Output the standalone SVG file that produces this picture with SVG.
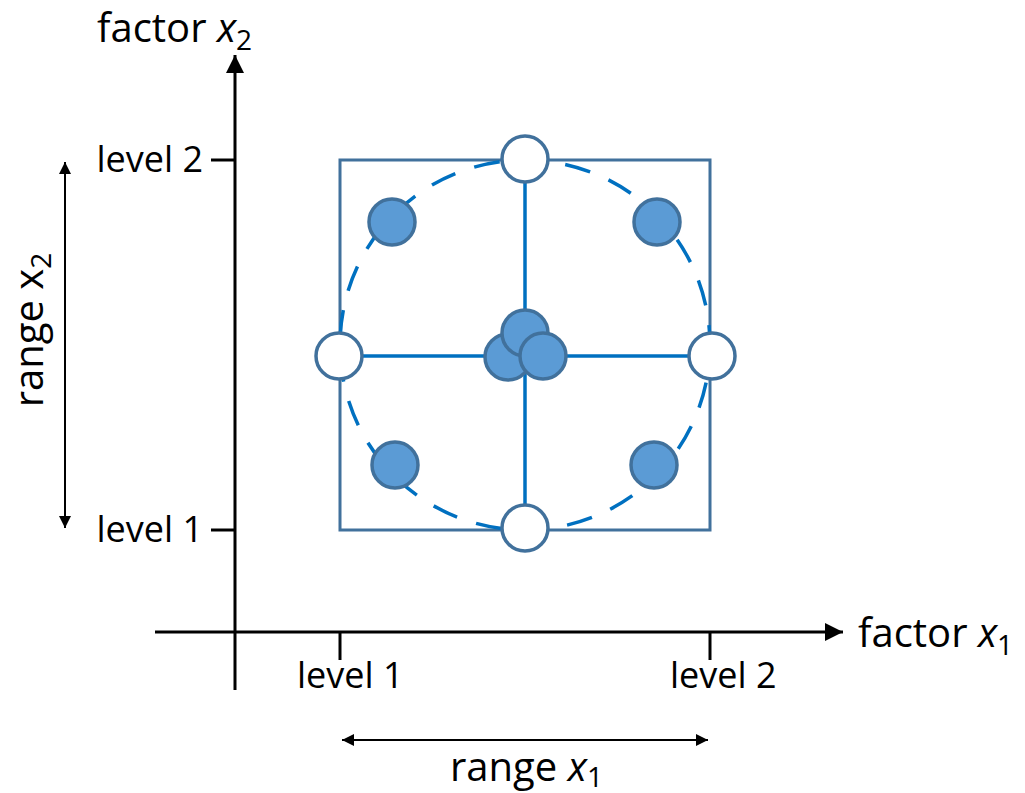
<svg xmlns="http://www.w3.org/2000/svg" width="1025" height="793" viewBox="0 0 1025 793">
<style>
text{font-family:"Open Sans","Liberation Sans",sans-serif;fill:#000}
.big{font-size:40px}
.lvl{font-size:36px}
.ax{stroke:#000;stroke-width:3;fill:none}
.rng{stroke:#000;stroke-width:2;fill:none}
.frame{fill:none;stroke:#41719C;stroke-width:3}
.ring{fill:none;stroke:#0070C0;stroke-width:3.5;stroke-dasharray:26 20;stroke-dashoffset:8}
.ln{stroke:#0070C0;stroke-width:3.5}
.open{fill:#fff;stroke:#41719C;stroke-width:3.5}
.fill{fill:#5B9BD5;stroke:#41719C;stroke-width:3.5}
</style>
<defs>
<marker id="axh" viewBox="0 0 10 10" refX="10" refY="5" markerWidth="8" markerHeight="6" markerUnits="strokeWidth" orient="auto"><path d="M0,0 L10,5 L0,10 z" fill="#000"/></marker>
<marker id="rh" viewBox="0 0 10 10" refX="10" refY="5" markerWidth="9" markerHeight="6" markerUnits="strokeWidth" orient="auto-start-reverse"><path d="M0,0 L10,5 L0,10 z" fill="#000"/></marker>
</defs>
<g id="axes">
<line class="ax" x1="235" y1="690" x2="235" y2="55" marker-end="url(#axh)"/>
<line class="ax" x1="155" y1="632" x2="843" y2="632" marker-end="url(#axh)"/>
<line class="ax" x1="211" y1="160" x2="235" y2="160"/>
<line class="ax" x1="211" y1="530" x2="235" y2="530"/>
<line class="ax" x1="340" y1="632" x2="340" y2="660"/>
<line class="ax" x1="710" y1="632" x2="710" y2="660"/>
</g>
<g id="labels">
<text class="big" x="97" y="42">factor <tspan font-style="italic">x</tspan><tspan font-size="28" dy="8">2</tspan></text>
<text class="big" x="858" y="647">factor <tspan font-style="italic">x</tspan><tspan font-size="28" dy="8">1</tspan></text>
<text class="lvl" x="203" y="172" text-anchor="end">level 2</text>
<text class="lvl" x="203" y="542" text-anchor="end">level 1</text>
<text class="lvl" x="297" y="688">level 1</text>
<text class="lvl" x="670" y="688">level 2</text>
<text class="big" x="450" y="781">range <tspan font-style="italic">x</tspan><tspan font-size="28" dy="6">1</tspan></text>
<text class="big" x="43" y="330" text-anchor="middle" transform="rotate(-90 43 330)">range x<tspan font-size="28" dy="8">2</tspan></text>
</g>
<g id="ranges">
<line class="rng" x1="342" y1="740" x2="708" y2="740" marker-start="url(#rh)" marker-end="url(#rh)"/>
<line class="rng" x1="65" y1="162" x2="65" y2="528" marker-start="url(#rh)" marker-end="url(#rh)"/>
</g>
<g id="frame"><rect class="frame" x="340" y="160" width="370" height="370"/></g>
<g id="ring"><circle class="ring" cx="525" cy="345" r="185"/></g>
<g id="connectors">
<line class="ln" x1="525" y1="160" x2="525" y2="530"/>
<line class="ln" x1="339" y1="356" x2="712" y2="356"/>
</g>
<g id="node-top"><circle class="open" cx="525" cy="159" r="23"/></g>
<g id="node-bottom"><circle class="open" cx="525" cy="528" r="23"/></g>
<g id="node-left"><circle class="open" cx="339" cy="356" r="23"/></g>
<g id="node-right"><circle class="open" cx="712" cy="356" r="23"/></g>
<g id="node-tl"><circle class="fill" cx="392" cy="222" r="23"/></g>
<g id="node-tr"><circle class="fill" cx="657" cy="222" r="23"/></g>
<g id="node-bl"><circle class="fill" cx="395" cy="465" r="23"/></g>
<g id="node-br"><circle class="fill" cx="654" cy="465" r="23"/></g>
<g id="node-center">
<circle class="fill" cx="508" cy="357" r="23"/>
<circle class="fill" cx="525" cy="333" r="23"/>
<circle class="fill" cx="543" cy="356" r="23"/>
</g>
</svg>
